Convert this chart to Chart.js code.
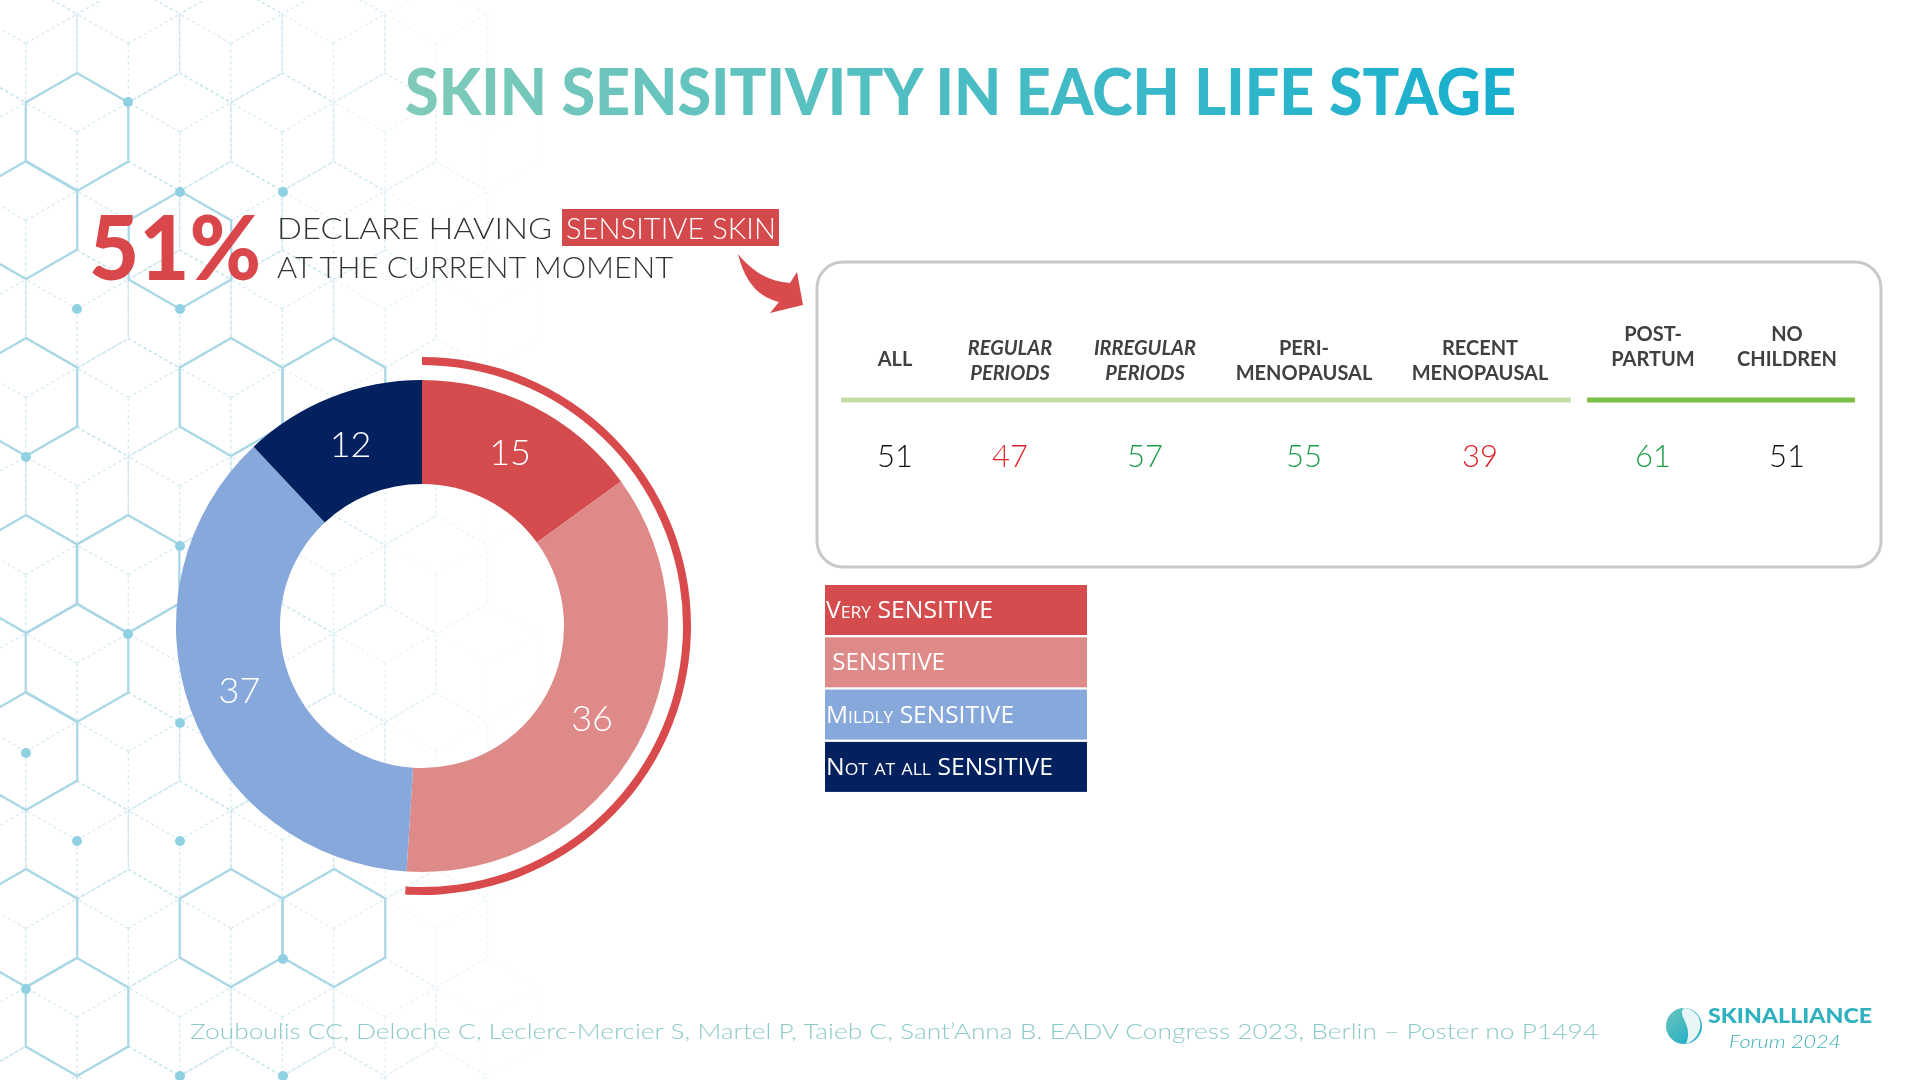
<!DOCTYPE html>
<html>
<head>
<meta charset="utf-8">
<title>Skin sensitivity in each life stage</title>
<script src="https://cdn.jsdelivr.net/npm/chart.js@4.4.0/dist/chart.umd.min.js"></script>
<style>
html, body { margin: 0; padding: 0; background: #fff; }
#page { position: relative; width: 1920px; height: 1080px; overflow: hidden; background: #fff; font-family: Lato, "Open Sans", sans-serif; }
#bg, #fg { position: absolute; left: 0; top: 0; }
#donutBox { position: absolute; left: 153px; top: 357px; width: 538px; height: 538px; }
text { white-space: pre; }
</style>
</head>
<body>
<div id="page">
  <svg id="bg" width="1920" height="1080"></svg>
  <div id="donutBox"><canvas id="donut"></canvas></div>
  <svg id="fg" width="1920" height="1080">
    <defs>
      <linearGradient id="titleGrad" gradientUnits="userSpaceOnUse" x1="405" y1="0" x2="1516" y2="0">
        <stop offset="0" stop-color="#80cab8"/>
        <stop offset="1" stop-color="#16afcf"/>
      </linearGradient>
      <linearGradient id="logoGrad" x1="0" y1="0" x2="1" y2="1">
        <stop offset="0" stop-color="#6cc6bb"/>
        <stop offset="1" stop-color="#16a9c9"/>
      </linearGradient>
    </defs>
    <text x="405" y="115" textLength="1111" lengthAdjust="spacingAndGlyphs"
          font-family="Lato" font-weight="900" font-size="65" fill="url(#titleGrad)">SKIN SENSITIVITY IN EACH LIFE STAGE</text>
    <g id="headline"></g>
    <path d="M738,254 C752,271 769,282 790,283 L797,272 L803,305 L770,313 L779,302 C760,298 745,283 738,254 Z" fill="#d94a4d"/>
    <rect x="817" y="262" width="1064" height="305" rx="26" ry="26" fill="none" stroke="#c9c9c9" stroke-width="3"/>
    <line x1="841" y1="400" x2="1571" y2="400" stroke="#c4dea8" stroke-width="5"/>
    <line x1="1587" y1="400" x2="1855" y2="400" stroke="#7cbf4b" stroke-width="5"/>
    <g id="table"></g>
    <g id="legend"></g>
    <text x="190" y="1039" textLength="1408" lengthAdjust="spacingAndGlyphs"
          font-family="Lato" font-weight="300" font-size="22" fill="#8ccac9">Zouboulis CC, Deloche C, Leclerc-Mercier S, Martel P, Taieb C, Sant’Anna B. EADV Congress 2023, Berlin – Poster no P1494</text>
    <circle cx="1684" cy="1026" r="18" fill="url(#logoGrad)"/>
    <path d="M1684,1008 C1676,1016 1694,1024 1686,1044 C1698,1040 1704,1026 1698,1016 C1694,1011 1689,1008 1684,1008 Z" fill="#e8f6f7"/>
    <text x="1708" y="1023" textLength="164" lengthAdjust="spacingAndGlyphs"
          font-family="Lato" font-weight="900" font-size="20" fill="#2fb1bf">SKINALLIANCE</text>
    <text x="1729" y="1048" textLength="112" lengthAdjust="spacingAndGlyphs"
          font-family="Lato" font-style="italic" font-weight="300" font-size="17" fill="#3bb0b8">Forum 2024</text>
  </svg>
</div>

<script>
// share of women declaring sensitive skin right now
var declaredPct = 51;

// donut: degree of skin sensitivity
var sensLabels = ['Very SENSITIVE', ' SENSITIVE', 'Mildly SENSITIVE', 'Not at all SENSITIVE'];
var sensValues = [15, 36, 37, 12];
var sensColors = ['#d44c4e', '#dd8a88', '#86a8da', '#03215f'];

// table: sensitive skin by life stage (%)
var stageLabels = [['ALL'], ['REGULAR', 'PERIODS'], ['IRREGULAR', 'PERIODS'], ['PERI-', 'MENOPAUSAL'],
                   ['RECENT', 'MENOPAUSAL'], ['POST-', 'PARTUM'], ['NO', 'CHILDREN']];
var stageValues = [51, 47, 57, 55, 39, 61, 51];

var SVGNS = 'http://www.w3.org/2000/svg';
function el(tag, attrs, parent, txt) {
    var e = document.createElementNS(SVGNS, tag);
    for (var k in attrs) e.setAttribute(k, attrs[k]);
    if (txt !== undefined) e.textContent = txt;
    if (parent) parent.appendChild(e);
    return e;
}

// ---------- background hexagons ----------
var bg = document.getElementById('bg');
var s = 59, hw = 51.3;
function hexPoints(cx, cy) {
    return [[cx, cy - s], [cx + hw, cy - s / 2], [cx + hw, cy + s / 2], [cx, cy + s], [cx - hw, cy + s / 2], [cx - hw, cy - s / 2]]
        .map(function(p) { return p[0].toFixed(1) + ',' + p[1].toFixed(1); }).join(' ');
}
for (var r = -1; r < 12; r++) {
    for (var k = -1; k < 6; k++) {
        var cx = 77 + 102.6 * k - (Math.abs(r) % 2 ? 51.3 : 0);
        var cy = 132 + 88.5 * r;
        var op = Math.max(0, Math.min(1, 1 - (cx - 260) / 260));
        if (op <= 0) continue;
        el('polygon', { points: hexPoints(cx, cy), fill: 'none', stroke: '#c9e5ee', 'stroke-width': 1.4,
                        'stroke-dasharray': '3 3', opacity: op }, bg);
        // cube edges inside
        [[cx, cy + s], [cx - hw, cy - s / 2], [cx + hw, cy - s / 2]].forEach(function(v) {
            el('line', { x1: cx, y1: cy, x2: v[0], y2: v[1], stroke: '#d3eaf1', 'stroke-width': 1.3,
                         'stroke-dasharray': '3 3', opacity: op }, bg);
        });
    }
}
var solidHex = [[77, 132], [26, 220], [180, 250], [26, 397], [231, 397], [334, 397], [26, 574], [128, 574],
                [77, 663], [26, 751], [26, 928], [231, 928], [334, 928], [77, 1017]];
solidHex.forEach(function(h) {
    el('polygon', { points: hexPoints(h[0], h[1]), fill: 'none', stroke: '#a9d7e5', 'stroke-width': 2.2 }, bg);
});
var dots = [[128, 102], [180, 192], [283, 192], [77, 309], [180, 309], [26, 457], [180, 546], [128, 634],
            [180, 723], [26, 753], [77, 841], [180, 841], [283, 959], [26, 989], [180, 1076], [283, 1076]];
dots.forEach(function(d) {
    el('circle', { cx: d[0], cy: d[1], r: 5, fill: '#8fd0e3' }, bg);
});

// ---------- headline ----------
var hl = document.getElementById('headline');
el('text', { x: 89, y: 280, textLength: 172, lengthAdjust: 'spacingAndGlyphs', 'font-family': 'Lato',
             'font-weight': 900, 'font-size': 90, fill: '#d9474b' }, hl, declaredPct + '%');
el('text', { x: 277, y: 239, textLength: 275, lengthAdjust: 'spacingAndGlyphs', 'font-family': 'Lato',
             'font-weight': 300, 'font-size': 29, fill: '#333' }, hl, 'DECLARE HAVING');
el('rect', { x: 562, y: 209, width: 217, height: 37, fill: '#d44a4c' }, hl);
el('text', { x: 566, y: 239, textLength: 210, lengthAdjust: 'spacingAndGlyphs', 'font-family': 'Lato',
             'font-weight': 300, 'font-size': 29, fill: '#fff' }, hl, 'SENSITIVE SKIN');
el('text', { x: 277, y: 278, textLength: 396, lengthAdjust: 'spacingAndGlyphs', 'font-family': 'Lato',
             'font-weight': 300, 'font-size': 29, fill: '#333' }, hl, 'AT THE CURRENT MOMENT');

// ---------- life stage table ----------
var tbl = document.getElementById('table');
var colX = [895, 1010, 1145, 1304, 1480, 1653, 1787];
var headBase = [366, 355, 355, 355, 355, 341, 341];
var italicCols = [1, 2];
stageLabels.forEach(function(lines, i) {
    lines.forEach(function(line, j) {
        el('text', { x: colX[i], y: headBase[i] + 25 * j, 'text-anchor': 'middle', 'font-family': 'Lato',
                     'font-weight': 700, 'font-size': 20, fill: '#404040',
                     'font-style': italicCols.indexOf(i) >= 0 ? 'italic' : 'normal' }, tbl, line);
    });
    var v = stageValues[i], ref = stageValues[0];
    var col = v > ref ? '#1f9d4a' : (v < ref ? '#e0232b' : '#111');
    el('text', { x: colX[i], y: 467, 'text-anchor': 'middle', 'font-family': 'Lato', 'font-weight': 300,
                 'font-size': 31, fill: col }, tbl, String(v));
});

// ---------- legend ----------
var lg = document.getElementById('legend');
var legendTextW = [167, 119, 188, 227];
sensLabels.forEach(function(lab, i) {
    var y = 585 + 52.3 * i;
    el('rect', { x: 825, y: y, width: 262, height: 50, fill: sensColors[i] }, lg);
    el('text', { x: 826, y: y + 33, textLength: legendTextW[i], lengthAdjust: 'spacingAndGlyphs',
                 'font-family': '"Open Sans"', 'font-size': 24, 'font-variant': 'small-caps',
                 style: 'font-variant: small-caps', fill: '#fff' }, lg, lab);
});

// ---------- donut ----------
var sliceLabels = {
    id: 'sliceLabels',
    afterDatasetsDraw: function(chart) {
        var ctx = chart.ctx;
        var meta = chart.getDatasetMeta(2);
        ctx.save();
        ctx.font = '300 36px Lato';
        ctx.fillStyle = '#fff';
        ctx.textAlign = 'center';
        ctx.textBaseline = 'middle';
        meta.data.forEach(function(arc, i) {
            var p = arc.tooltipPosition();
            ctx.fillText(String(sensValues[i]), p.x, p.y);
        });
        ctx.restore();
    }
};

var ctx = document.getElementById('donut').getContext('2d');
var donut = new Chart(ctx, {
    type: 'doughnut',
    data: {
        labels: sensLabels,
        datasets: [
            {   // outer red arc = share declaring sensitive skin
                data: [declaredPct, 100 - declaredPct],
                backgroundColor: ['#d84a4c', 'rgba(0,0,0,0)'],
                borderWidth: 0,
                weight: 8
            },
            {   // white gap
                data: [100],
                backgroundColor: ['rgba(0,0,0,0)'],
                borderWidth: 0,
                weight: 15
            },
            {
                data: sensValues,
                backgroundColor: sensColors,
                borderWidth: 0,
                weight: 104
            }
        ]
    },
    options: {
        responsive: true,
        maintainAspectRatio: false,
        animation: false,
        cutout: '52.8%',
        layout: { padding: 0 },
        plugins: {
            legend: { display: false },
            tooltip: { enabled: false }
        }
    },
    plugins: [sliceLabels]
});
</script>
</body>
</html>
